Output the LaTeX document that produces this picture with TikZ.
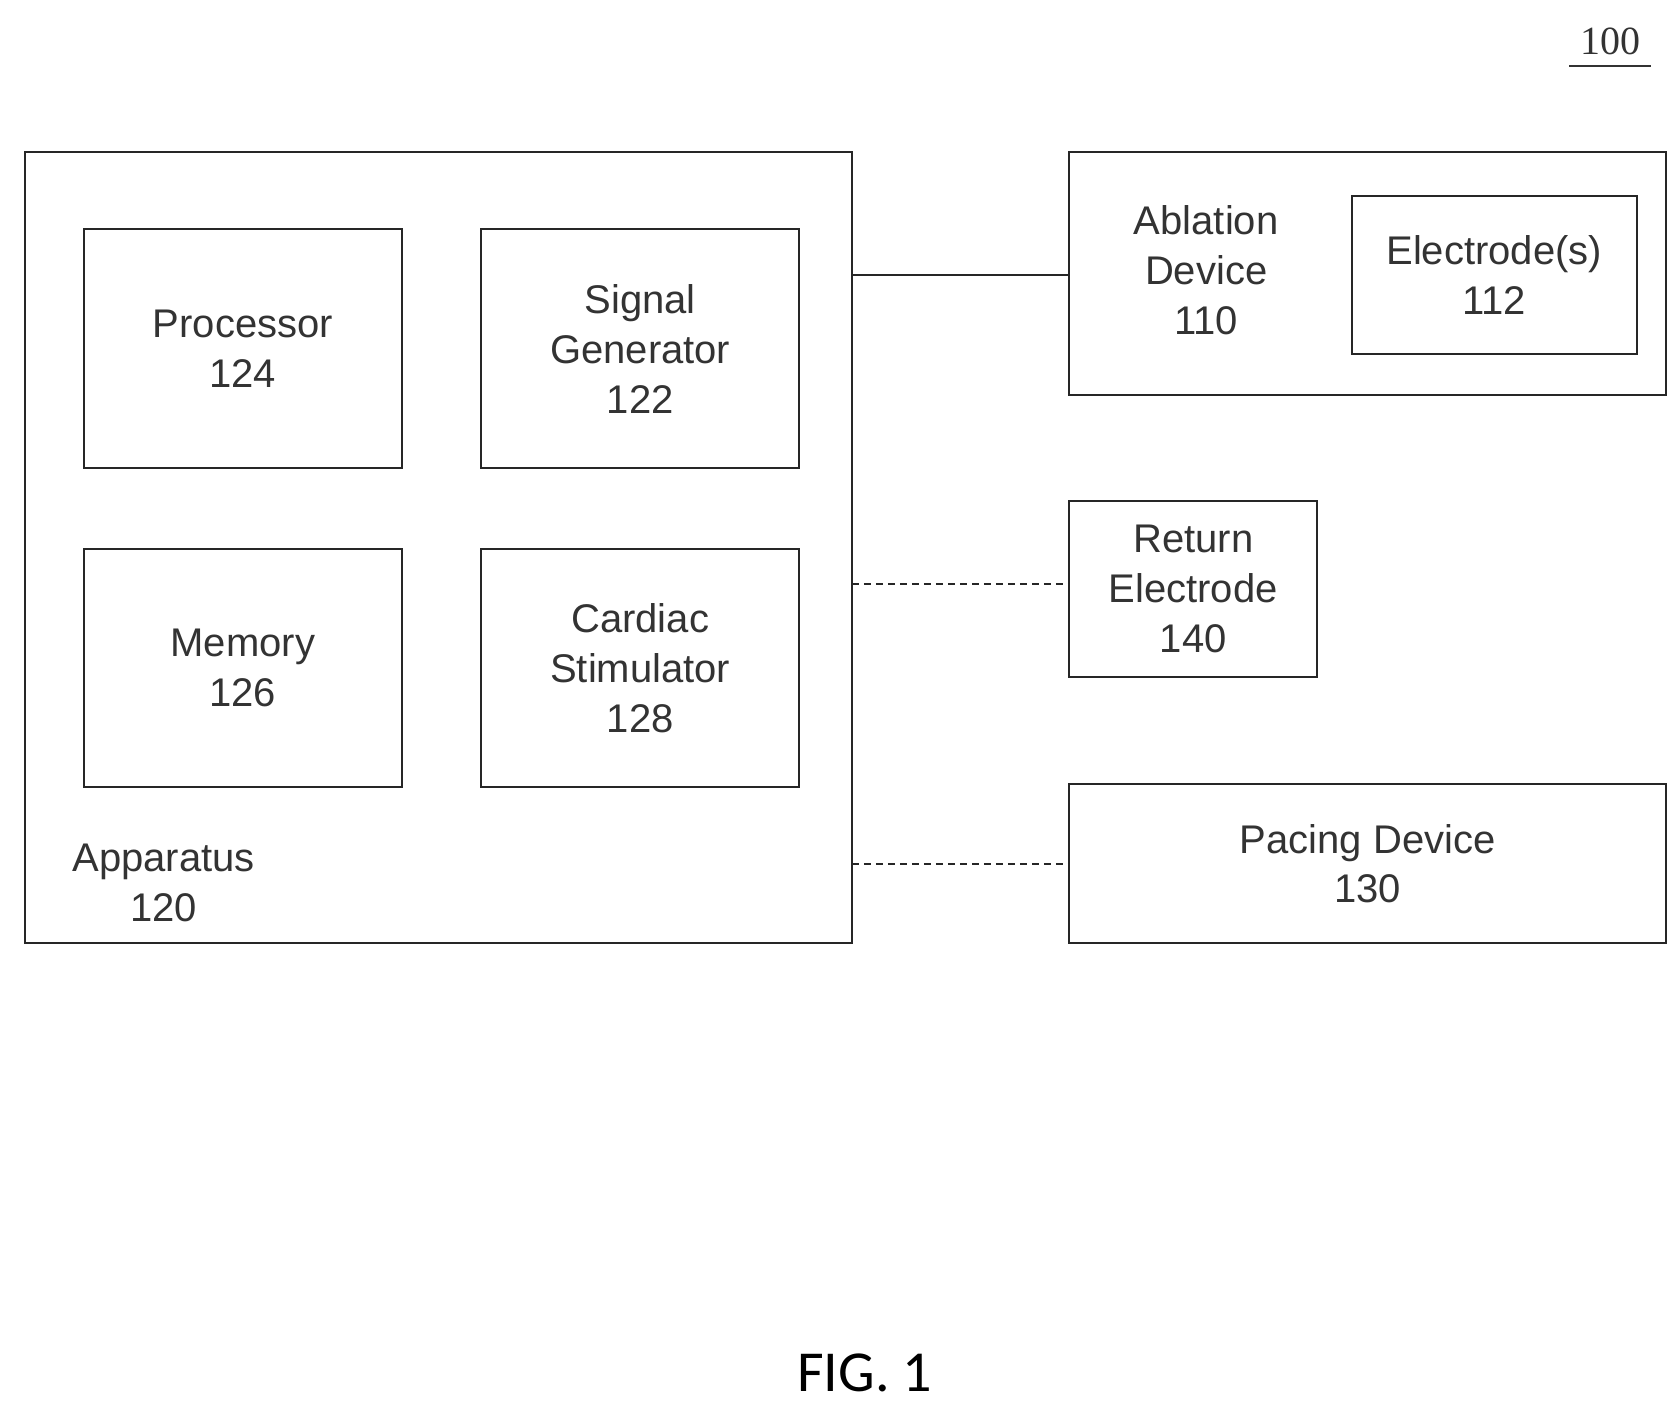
\documentclass[tikz,border=0pt]{standalone}
\usepackage{fontspec}
\setmainfont{Liberation Sans}
\newfontfamily\figfont{Carlito}
\newfontfamily\numfont{Liberation Serif}
\begin{document}
\begin{tikzpicture}[x=1.077pt,y=-1.077pt,
  box/.style={draw=black!85,line width=2pt},
  lbl/.style={font=\fontsize{40}{50}\selectfont,text=black!80,align=center,inner sep=0pt},
  con/.style={draw=black!85,line width=1.8pt},
  dsh/.style={con,dash pattern=on 7pt off 5pt}]
\useasboundingbox (0,0) rectangle (1560,1308);
\draw[box] (23,141) rectangle (791,876);
\node[box,minimum width=295*1.077pt,minimum height=222*1.077pt,lbl] (p) at (225.5,324) {Processor\\124};
\node[box,minimum width=295*1.077pt,minimum height=222*1.077pt,lbl] (s) at (594.5,324) {Signal\\Generator\\122};
\node[box,minimum width=295*1.077pt,minimum height=221*1.077pt,lbl] (m) at (225.5,620.5) {Memory\\126};
\node[box,minimum width=295*1.077pt,minimum height=221*1.077pt,lbl] (c) at (594.5,620.5) {Cardiac\\Stimulator\\128};
\node[lbl] (app) at (152,820) {Apparatus\\120};
\coordinate (a1) at (791,255);
\coordinate (a2) at (791,542);
\coordinate (a3) at (791,802);
\draw[box] (993,141) rectangle (1547,367);
\node[lbl] (abl) at (1120,251) {Ablation\\Device\\110};
\node[box,minimum width=265*1.077pt,minimum height=147*1.077pt,lbl] (el) at (1387.5,255.5) {Electrode(s)\\112};
\coordinate (b1) at (993,255);
\node[box,minimum width=230*1.077pt,minimum height=164*1.077pt,lbl] (ret) at (1108,547) {Return\\Electrode\\140};
\node[box,minimum width=554*1.077pt,minimum height=148*1.077pt,lbl] (pac) at (1270,802) {Pacing Device\\130};
\draw[con] (a1) -- (b1);
\draw[dsh] (a2) -- (ret.west|-a2);
\draw[dsh] (a3) -- (pac.west|-a3);
\node[font=\numfont\fontsize{40}{40}\selectfont,text=black!80,inner sep=0pt] (n100) at (1495,38) {100};
\draw[line width=2pt,black!80] (1457,61) -- (1533,61);
\node[font=\figfont\fontsize{58}{58}\selectfont,inner sep=0pt] (fig) at (803,1275) {FIG. 1};
\end{tikzpicture}
\end{document}
